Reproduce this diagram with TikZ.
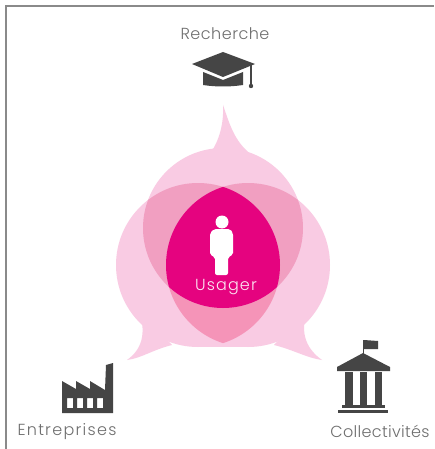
\documentclass[tikz,border=0pt]{standalone}
\usepackage{fontspec}
\setmainfont{Poppins}[UprightFont=* Light]
\definecolor{paleP}{HTML}{F9CBE3}
\definecolor{midP}{HTML}{F19FC1}
\definecolor{lowP}{HTML}{F594B8}
\definecolor{coreP}{HTML}{E5037F}
\definecolor{iconC}{HTML}{454545}
\definecolor{textC}{HTML}{6E6E6E}
\definecolor{frameC}{HTML}{8A8A8A}
\tikzset{
  labeltext/.style={text=textC,font=\fontsize{16}{18}\selectfont,inner sep=0pt}
}
\newcommand{\circT}{(223,228) circle[radius=80]}
\newcommand{\circL}{(198,265) circle[radius=82]}
\newcommand{\circR}{(248,265) circle[radius=82]}
\begin{document}
\begin{tikzpicture}[x=1pt,y=-1pt]
\useasboundingbox (0,0) rectangle (434,449);
\fill[white] (0,0) rectangle (434,449);
% frame
\draw[frameC,line width=1.6pt] (6,449) -- (6,6) -- (434,6);
% pale shapes with tails
\fill[paleP] \circT;
\fill[paleP] \circL;
\fill[paleP] \circR;
\fill[paleP] (198,330) rectangle (248,347);
\fill[paleP] (209,155) .. controls (219,142) and (224,124) .. (223,105) .. controls (229,122) and (234,142) .. (252,155) -- cycle;
\fill[paleP] (139,310) .. controls (147,335) and (141,350) .. (127,360) .. controls (142,358) and (152,350) .. (172,345) -- cycle;
\fill[paleP] (307,310) .. controls (299,335) and (308,350) .. (322,360) .. controls (307,358) and (294,350) .. (274,345) -- cycle;
% overlaps
\begin{scope}
  \clip \circL; \clip \circR;
  \fill[lowP] (100,90) rectangle (350,380);
\end{scope}
\begin{scope}
  \clip \circT;
  \fill[midP] \circL;
  \fill[midP] \circR;
\end{scope}
\begin{scope}
  \clip \circT; \clip \circL; \clip \circR;
  \fill[coreP] (100,90) rectangle (350,380);
\end{scope}
% person
\fill[white] (222,222) circle[radius=6.5];
\fill[white,rounded corners=2pt] (214,229) -- (230,229) -- (233,233) -- (233,255) -- (228,257) -- (228,275) -- (215,275) -- (215,257) -- (210,255) -- (210,233) -- cycle;
\node[labeltext,text=white!90!coreP] (usager) at (226,287) {\addfontfeature{LetterSpace=7}Usager};
% Recherche
\node[labeltext] (recherche) at (225,34) {\addfontfeature{LetterSpace=3}Recherche};
\fill[iconC] (223,52) -- (255,64) -- (223,77) -- (192,64) -- cycle;
\fill[iconC] (203,72) -- (223,80) -- (243,72) -- (243,85) .. controls (230,87) and (216,87) .. (203,85) -- cycle;
\fill[iconC] (250.2,65) rectangle (251.8,84);
\fill[iconC] (251,86) circle[radius=2.2];
% Entreprises
\node[labeltext] (entreprises) at (67,432) {\addfontfeature{LetterSpace=8}Entreprises};
\fill[iconC,even odd rule] (62,381) -- (76,389) -- (76,381) -- (90,389) -- (90,381) -- (105,390) -- (106,365) -- (113,363) -- (113,413) -- (62,413) -- cycle
  (67,398) rectangle (73,408) (77,398) rectangle (83,408) (87,398) rectangle (93,408) (97,398) rectangle (103,408);
% Collectivites
\node[labeltext] (collectivites) at (380,431) {\addfontfeature{LetterSpace=2}Collectivités};
\fill[iconC] (362.5,340) rectangle (364,356);
\fill[iconC] (364,340) -- (378,341) -- (378,349) -- (364,349) -- cycle;
\fill[iconC] (363,353) -- (390,367) -- (390,371) -- (337,371) -- (337,367) -- cycle;
\fill[iconC] (345,372) rectangle (352.5,405);
\fill[iconC] (359.5,372) rectangle (367,405);
\fill[iconC] (374.5,372) rectangle (382,405);
\fill[iconC] (342,405) rectangle (385,408);
\fill[iconC] (338,409.5) rectangle (388,413);
\end{tikzpicture}
\end{document}
